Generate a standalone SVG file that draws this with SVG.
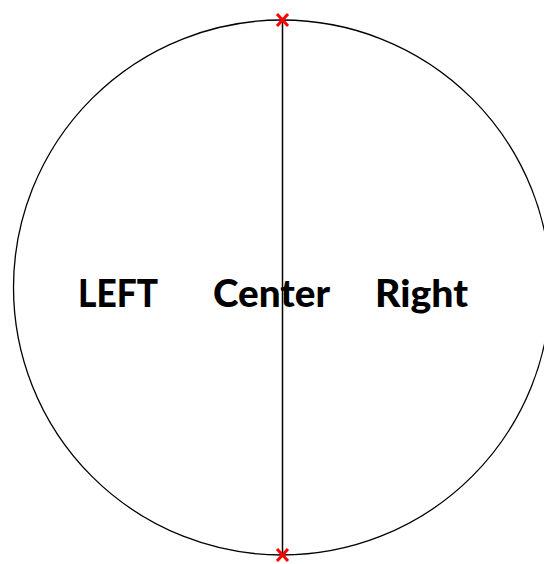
<svg xmlns="http://www.w3.org/2000/svg" width="544" height="564" viewBox="0 0 544 564">
<style>
.lbl{font-family:"Lato","Liberation Sans",sans-serif;font-weight:900;font-size:38px;fill:#000}
.x{stroke:#ff0000;stroke-width:3;fill:none}
</style>
<rect width="544" height="564" fill="#fff"/>
<g id="circle"><ellipse cx="282" cy="287.5" rx="268.5" ry="267.5" fill="none" stroke="#000" stroke-width="1.3"/></g>
<g id="connectors">
<line x1="282.5" y1="20" x2="282.5" y2="555" stroke="#000" stroke-width="1.5"/>
</g>
<g id="top-mark"><path class="x" d="M277 14 L288 26 M288 14 L277 26"/></g>
<g id="bottom-mark"><path class="x" d="M277 549 L288 561 M288 549 L277 561"/></g>
<g id="left"><text class="lbl" x="78" y="307" textLength="80" lengthAdjust="spacingAndGlyphs">LEFT</text></g>
<g id="center"><text class="lbl" x="213" y="307" textLength="117" lengthAdjust="spacingAndGlyphs">Center</text></g>
<g id="right"><text class="lbl" x="375" y="307" textLength="93" lengthAdjust="spacingAndGlyphs">Right</text></g>
</svg>
